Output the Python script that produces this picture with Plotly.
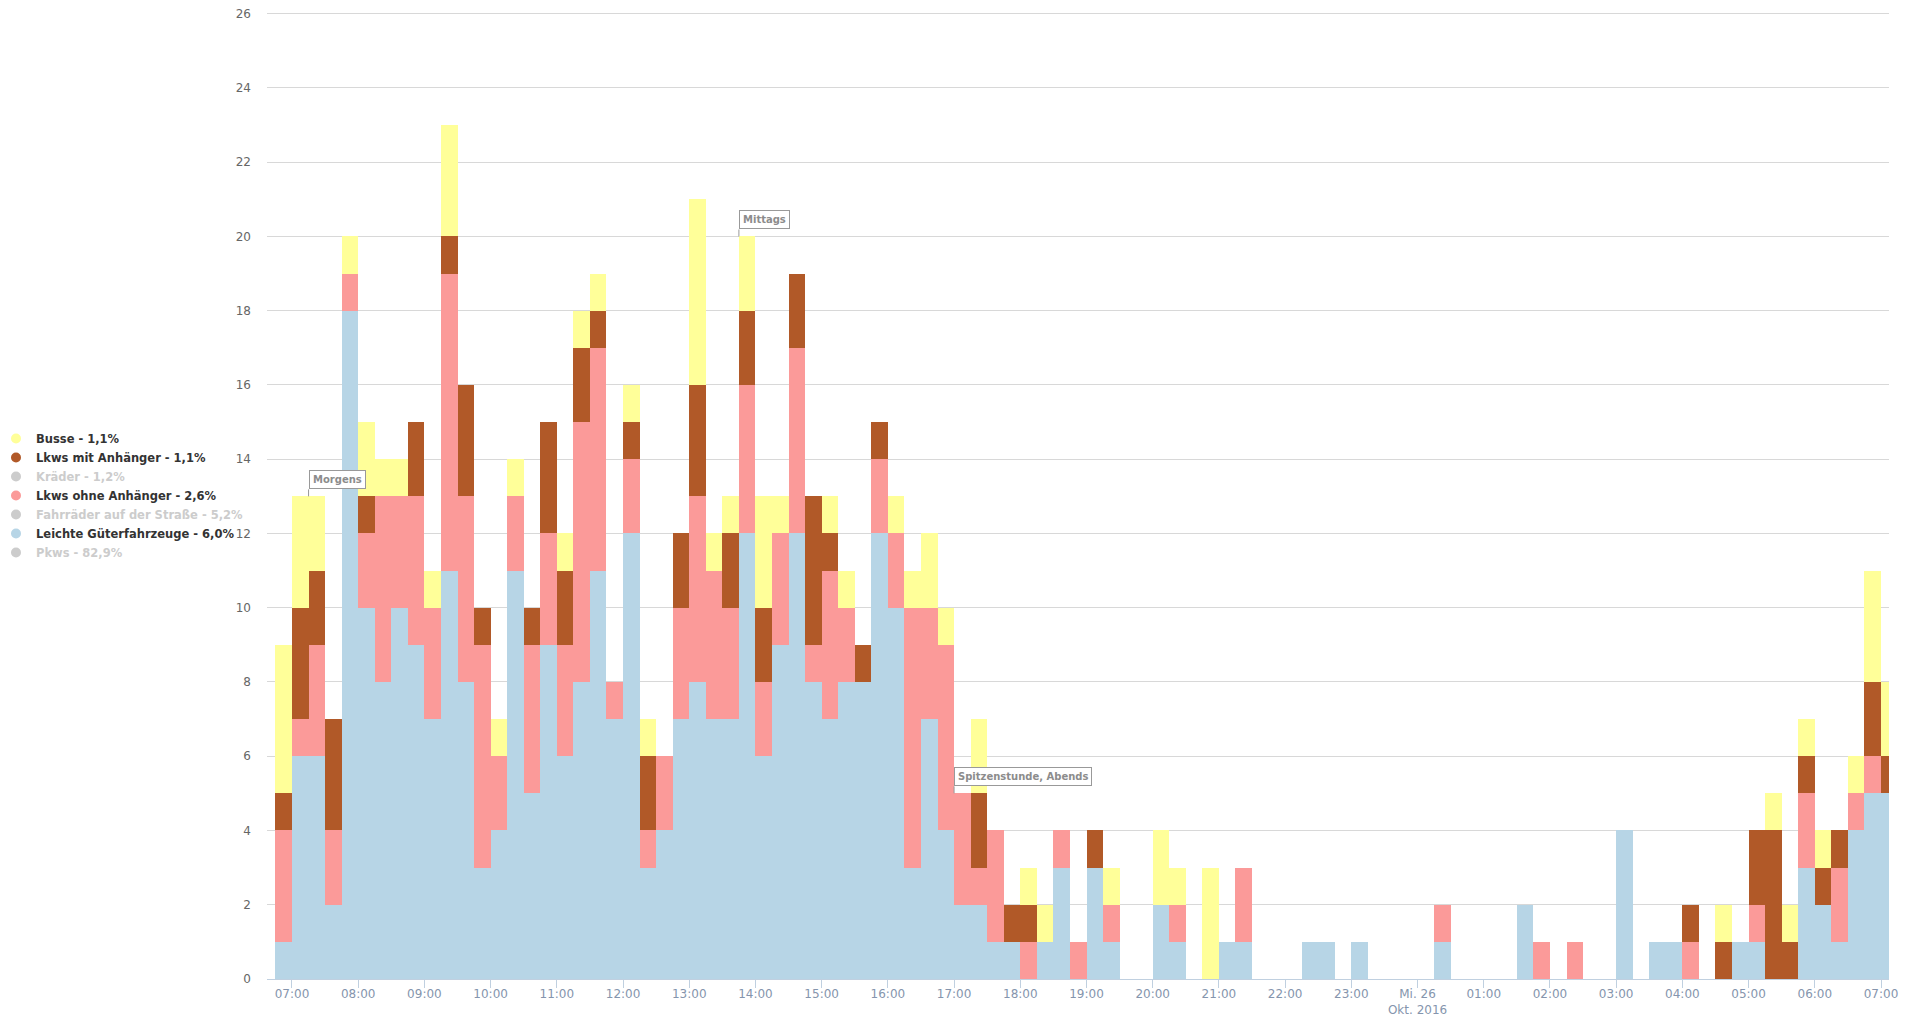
import pandas as pd
import plotly.graph_objects as go

# ---- data -----------------------------------------------------------------
start_time = "2016-10-25 06:45"
n_intervals = 98  # 15-minute intervals, 06:45 .. 07:00 next day

leichte_gueter = [1, 6, 6, 2, 18, 10, 8, 10, 9, 7, 11, 8, 3, 4, 11, 5, 9, 6, 8, 11,
                  7, 12, 3, 4, 7, 8, 7, 7, 12, 6, 9, 12, 8, 7, 8, 8, 12, 10, 3, 7,
                  4, 2, 2, 1, 1, 0, 1, 3, 0, 3, 1, 0, 0, 2, 1, 0, 0, 1, 1, 0,
                  0, 0, 1, 1, 0, 1, 0, 0, 0, 0, 1, 0, 0, 0, 0, 2, 0, 0, 0, 0,
                  0, 4, 0, 1, 1, 0, 0, 0, 1, 1, 0, 0, 3, 2, 1, 4, 5, 5]
lkw_ohne = [3, 1, 3, 2, 1, 2, 5, 3, 4, 3, 8, 5, 6, 2, 2, 4, 3, 3, 7, 6,
            1, 2, 1, 2, 3, 5, 4, 3, 4, 2, 3, 5, 1, 4, 2, 0, 2, 2, 7, 3,
            5, 3, 1, 3, 0, 1, 0, 1, 1, 0, 1, 0, 0, 0, 1, 0, 0, 0, 2, 0,
            0, 0, 0, 0, 0, 0, 0, 0, 0, 0, 1, 0, 0, 0, 0, 0, 1, 0, 1, 0,
            0, 0, 0, 0, 0, 1, 0, 0, 0, 1, 0, 0, 2, 0, 2, 1, 1, 0]
lkw_mit = [1, 3, 2, 3, 0, 1, 0, 0, 2, 0, 1, 3, 1, 0, 0, 1, 3, 2, 2, 1,
           0, 1, 2, 0, 2, 3, 0, 2, 2, 2, 0, 2, 4, 1, 0, 1, 1, 0, 0, 0,
           0, 0, 2, 0, 1, 1, 0, 0, 0, 1, 0, 0, 0, 0, 0, 0, 0, 0, 0, 0,
           0, 0, 0, 0, 0, 0, 0, 0, 0, 0, 0, 0, 0, 0, 0, 0, 0, 0, 0, 0,
           0, 0, 0, 0, 0, 1, 0, 1, 0, 2, 4, 1, 1, 1, 1, 0, 2, 1]
busse = [4, 3, 2, 0, 1, 2, 1, 1, 0, 1, 3, 0, 0, 1, 1, 0, 0, 1, 1, 1,
         0, 1, 1, 0, 0, 5, 1, 1, 2, 3, 1, 0, 0, 1, 1, 0, 0, 1, 1, 2,
         1, 0, 2, 0, 0, 1, 1, 0, 0, 0, 1, 0, 0, 2, 1, 0, 3, 0, 0, 0,
         0, 0, 0, 0, 0, 0, 0, 0, 0, 0, 0, 0, 0, 0, 0, 0, 0, 0, 0, 0,
         0, 0, 0, 0, 0, 0, 0, 1, 0, 0, 1, 1, 1, 1, 0, 1, 3, 2]

legend_labels = ["Busse - 1,1%", "Lkws mit Anhänger - 1,1%", "Kräder - 1,2%",
                 "Lkws ohne Anhänger - 2,6%", "Fahrräder auf der Straße - 5,2%",
                 "Leichte Güterfahrzeuge - 6,0%", "Pkws - 82,9%"]
legend_hidden = [False, False, True, False, True, False, True]

tick_times = ["2016-10-25 %02d:00" % h for h in range(7, 24)] + \
             ["2016-10-26 %02d:00" % h for h in range(0, 8)]
tick_labels = ["07:00", "08:00", "09:00", "10:00", "11:00", "12:00", "13:00", "14:00",
               "15:00", "16:00", "17:00", "18:00", "19:00", "20:00", "21:00", "22:00",
               "23:00", "Mi. 26<br>Okt. 2016", "01:00", "02:00", "03:00", "04:00",
               "05:00", "06:00", "07:00"]

flag_times = ["2016-10-25 07:15", "2016-10-25 13:45", "2016-10-25 17:00"]
flag_texts = ["Morgens", "Mittags", "Spitzenstunde, Abends"]

# ---- styles ---------------------------------------------------------------
C_BLUE = "#b7d5e6"
C_PINK = "#fb9a99"
C_BROWN = "#b15928"
C_YELLOW = "#ffff99"
C_GREY = "#cccccc"
FONT = "DejaVu Sans"

W, H = 1891, 1010
Y_MAX = 26.1
ML, MR, MT, MB = 259, 10, 2.4, 39
plot_w = W - ML - MR

times = pd.date_range(start_time, periods=n_intervals, freq="15min")
width_ms = 15 * 60 * 1000

fig = go.Figure()
stack = [(leichte_gueter, C_BLUE, "Leichte Güterfahrzeuge"),
         (lkw_ohne, C_PINK, "Lkws ohne Anhänger"),
         (lkw_mit, C_BROWN, "Lkws mit Anhänger"),
         (busse, C_YELLOW, "Busse")]
for vals, col, nm in stack:
    fig.add_trace(go.Bar(x=times, y=vals, name=nm, width=width_ms, offset=0,
                         marker=dict(color=col, line=dict(width=0)),
                         showlegend=False))

legend_colors = [C_YELLOW, C_BROWN, C_GREY, C_PINK, C_GREY, C_BLUE, C_GREY]
for lab, col, hid in zip(legend_labels, legend_colors, legend_hidden):
    tcol = "#cccccc" if hid else "#333333"
    fig.add_trace(go.Scatter(x=[None], y=[None], mode="markers",
                             name='<span style="color:%s"><b>%s</b></span>' % (tcol, lab),
                             marker=dict(color=col, size=10, symbol="circle"),
                             showlegend=True))

# totals for flag positions
totals = [a + b + c + d for a, b, c, d in zip(leichte_gueter, lkw_ohne, lkw_mit, busse)]
time_index = {t.strftime("%Y-%m-%d %H:%M"): i for i, t in enumerate(times)}
for ft, txt in zip(flag_times, flag_texts):
    yv = totals[time_index[ft]]
    fig.add_annotation(x=ft, y=yv, xref="x", yref="y", text="<b>%s</b>" % txt,
                       showarrow=True, arrowhead=0, arrowwidth=1, arrowcolor="#999999",
                       ax=0, ay=-7, xanchor="left", yanchor="bottom", standoff=0,
                       font=dict(family=FONT, size=10, color="#8c8c8c"),
                       bgcolor="white", bordercolor="#999999", borderwidth=1, borderpad=3)

fig.update_layout(
    width=W, height=H,
    barmode="stack", bargap=0,
    paper_bgcolor="white", plot_bgcolor="white",
    margin=dict(l=ML, r=MR, t=MT, b=MB, autoexpand=False),
    font=dict(family=FONT, size=12, color="#666666"),
    showlegend=True,
    legend=dict(xref="paper", yref="container",
                x=(-12 - ML) / plot_w, y=1 - 416 / H,
                xanchor="left", yanchor="top", traceorder="normal",
                font=dict(family=FONT, size=11.5, color="#333333"),
                bgcolor="rgba(0,0,0,0)", itemwidth=30),
    xaxis=dict(type="date",
               range=["2016-10-25 06:37:21", "2016-10-26 07:07:15"],
               tickmode="array", tickvals=tick_times, ticktext=tick_labels,
               showgrid=False, zeroline=False,
               showline=True, linecolor="#c0d0e0", linewidth=1,
               ticks="outside", ticklen=8, tickcolor="#c0d0e0", tickwidth=1,
               ticklabelstandoff=-4,
               tickfont=dict(family=FONT, size=12, color="#8595ad")),
    yaxis=dict(range=[0, Y_MAX], tickmode="linear", dtick=2, tick0=0,
               showgrid=True, gridcolor="#d8d8d8", gridwidth=1,
               zeroline=False, showline=False, ticks="",
               ticklabelstandoff=15, ticklabeloverflow="allow",
               tickfont=dict(family=FONT, size=12, color="#666666")),
)

fig.write_html("out.html")
